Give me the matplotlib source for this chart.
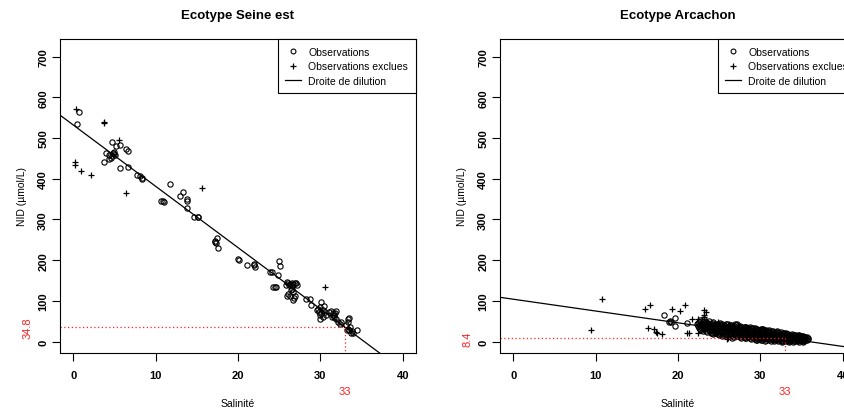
import matplotlib
matplotlib.use("Agg")
import matplotlib.pyplot as plt
import matplotlib.transforms as mtransforms
from matplotlib.lines import Line2D

plt.rcParams['font.family'] = ['Liberation Sans', 'DejaVu Sans']

# Ecotype Seine est
seine_obs_x = [0.76, 0.52,
               4.7, 5.2, 5.7, 6.4, 6.7,
               4.0, 4.4, 4.7, 4.9, 5.1, 4.6, 4.3, 3.8, 5.0, 4.8,
               5.7, 6.6,
               7.7, 8.1, 8.3, 8.4,
               11.7, 13.3, 13.0, 13.8, 13.8, 10.7, 11.0, 10.9,
               13.8, 14.7, 15.2, 15.1,
               17.2, 17.3, 17.5, 17.6, 17.2,
               19.95, 20.1, 21.1, 21.9, 22.05, 21.95,
               23.9, 24.1, 24.95, 25.1, 24.9, 24.3, 24.6, 24.5,
               25.9, 26.1, 26.3, 26.5, 26.7, 26.9, 27.1, 26.2, 26.5, 26.7,
               26.1, 26.3, 26.9, 26.7, 26.0, 26.4, 26.8, 27.0, 26.6, 25.8,
               28.3, 28.7, 28.9,
               30.1, 29.9, 29.7, 29.8, 30.3, 30.5, 30.1, 30.0, 30.3, 30.7, 29.6, 30.4, 29.9,
               31.1, 31.3, 31.5, 31.7, 31.9, 31.4, 32.1, 31.8, 31.6, 31.9,
               32.5, 32.4,
               33.3, 33.4, 33.1, 33.3, 33.5, 33.7, 33.2, 33.9, 34.5, 33.6, 33.8, 33.5]
seine_obs_y = [563, 534,
               491, 481, 483, 473, 467,
               463, 458, 455, 460, 458, 452, 448, 441, 465, 462,
               426, 428,
               408, 407, 402, 399,
               387, 367, 357, 350, 345, 346, 342, 344,
               329, 305, 305, 306,
               248, 243, 254, 230, 245,
               203, 201, 188, 190, 184, 187,
               172, 170, 197, 185, 164, 134, 134, 135,
               146, 145, 142, 145, 142, 145, 140, 138, 130, 122,
               118, 113, 113, 101, 112, 127, 108, 143, 136, 140,
               105, 104, 89,
               98, 85, 81, 73, 77, 73, 69, 56, 61, 65, 78, 88, 66,
               73, 74, 71, 65, 56, 61, 48, 70, 60, 74,
               47, 43,
               55, 48, 40, 32, 28, 22, 28, 20, 29, 35, 25, 57]
seine_excl_x = [0.4, 3.7, 3.75, 5.5, 0.28, 0.28, 0.97, 2.2, 6.4, 15.6, 30.5]
seine_excl_y = [570, 536, 538, 495, 440, 434, 420, 409, 364, 377, 133]
seine_intercept, seine_slope = 532.0, -15.06
seine_sal, seine_nid = 33, 34.8

# Ecotype Arcachon
arc_obs_x = [18.3, 18.9, 19.0, 19.1, 19.6, 19.6, 21.1, 22.3, 30.3,
             22.4, 22.4, 22.7, 22.7, 22.7, 23.0, 23.0, 23.0, 23.2, 23.2, 23.2,
             23.5, 23.5, 23.5, 23.8, 23.8, 23.8, 24.0, 24.0, 24.0,
             24.3, 24.3, 24.3, 24.3, 24.6, 24.6, 24.6, 24.9, 24.9, 24.9,
             25.1, 25.1, 25.1, 25.4, 25.4, 25.4, 25.4, 25.7, 25.7, 25.7,
             26.0, 26.0, 26.0, 26.0, 26.3, 26.3, 26.3, 26.6, 26.6, 26.6, 26.6,
             26.9, 26.9, 26.9, 27.2, 27.2, 27.2, 27.2, 27.5, 27.5, 27.5, 27.5,
             27.8, 27.8, 27.8, 28.1, 28.1, 28.1, 28.1, 28.4, 28.4, 28.4,
             28.7, 28.7, 28.7, 28.7, 29.0, 29.0, 29.0, 29.3, 29.3, 29.3, 29.3,
             29.6, 29.6, 29.6, 29.6, 29.9, 29.9, 29.9, 30.2, 30.2, 30.2, 30.2,
             30.5, 30.5, 30.5, 30.5, 30.8, 30.8, 30.8, 31.1, 31.1, 31.1, 31.1,
             31.4, 31.4, 31.4, 31.7, 31.7, 31.7, 31.7, 32.0, 32.0, 32.0,
             32.3, 32.3, 32.3, 32.6, 32.6, 32.6, 32.6, 32.9, 32.9, 32.9,
             33.2, 33.2, 33.2, 33.5, 33.5, 33.5, 33.5, 33.8, 33.8, 33.8,
             34.1, 34.1, 34.1, 34.4, 34.4, 34.4, 34.7, 34.7, 34.7, 34.7,
             35.0, 35.0, 35.0, 35.3, 35.3, 35.3, 35.6, 35.6,
             22.55, 22.55, 22.85, 22.85, 22.85, 23.1, 23.1, 23.1,
             23.35, 23.35, 23.35, 23.65, 23.65, 23.65, 23.9, 23.9, 23.9,
             24.15, 24.15, 24.15, 24.15, 24.45, 24.45, 24.45, 24.75, 24.75, 24.75,
             25.0, 25.0, 25.0, 25.0, 25.25, 25.25, 25.25, 25.55, 25.55, 25.55, 25.55,
             25.85, 25.85, 25.85, 25.85, 26.15, 26.15, 26.15, 26.45, 26.45, 26.45, 26.45,
             26.75, 26.75, 26.75, 26.75, 27.05, 27.05, 27.05, 27.35, 27.35, 27.35, 27.35,
             27.65, 27.65, 27.65, 27.65, 27.95, 27.95, 27.95, 27.95, 28.25, 28.25, 28.25, 28.25,
             28.55, 28.55, 28.55, 28.55, 28.85, 28.85, 28.85, 28.85, 29.15, 29.15, 29.15, 29.15,
             29.45, 29.45, 29.45, 29.45, 29.75, 29.75, 29.75, 29.75, 30.05, 30.05, 30.05, 30.05,
             30.35, 30.35, 30.35, 30.35, 30.65, 30.65, 30.65, 30.65, 30.95, 30.95, 30.95, 30.95,
             31.25, 31.25, 31.25, 31.25, 31.55, 31.55, 31.55, 31.55, 31.85, 31.85, 31.85, 31.85,
             32.15, 32.15, 32.15, 32.15, 32.45, 32.45, 32.45, 32.45, 32.75, 32.75, 32.75, 32.75,
             33.05, 33.05, 33.05, 33.05, 33.35, 33.35, 33.35, 33.35, 33.65, 33.65, 33.65, 33.65,
             33.95, 33.95, 33.95, 33.95, 34.25, 34.25, 34.25, 34.25, 34.55, 34.55, 34.55, 34.55,
             34.85, 34.85, 34.85, 35.15, 35.15, 35.15, 35.15, 35.45, 35.45, 35.45, 35.75, 35.75]
arc_obs_y = [66, 47, 51, 49, 59, 38, 46, 44, 31,
             45, 38, 52, 30, 41, 47, 35, 26, 55, 40, 30,
             44, 33, 24, 50, 38, 28, 42, 31, 22,
             47, 36, 26, 18, 44, 33, 22, 40, 29, 19,
             46, 36, 25, 42, 31, 20, 14, 39, 28, 18,
             44, 34, 24, 13, 40, 30, 20, 37, 27, 16, 10,
             42, 32, 22, 43, 35, 25, 14, 38, 29, 19, 11,
             34, 25, 15, 36, 28, 19, 9, 33, 24, 14,
             36, 27, 17, 8, 31, 22, 13, 34, 25, 15, 6,
             30, 21, 11, 4, 28, 19, 10, 31, 23, 14, 5,
             27, 18, 9, 2, 25, 17, 8, 28, 20, 11, 3,
             24, 16, 7, 22, 14, 6, 1, 25, 17, 9,
             21, 13, 5, 19, 12, 4, 0, 22, 15, 8,
             18, 11, 3, 16, 10, 5, 0, 19, 12, 6,
             15, 9, 2, 14, 8, 3, 16, 10, 4, 0,
             13, 7, 2, 12, 6, 1, 11, 5,
             48, 34, 44, 36, 28, 50, 42, 33,
             47, 37, 27, 46, 40, 30, 44, 35, 25,
             45, 39, 29, 21, 41, 30, 20, 42, 35, 24,
             43, 32, 22, 16, 40, 33, 23, 41, 35, 25, 16,
             42, 33, 22, 15, 39, 28, 18, 41, 34, 24, 13,
             39, 30, 19, 12, 40, 28, 17, 37, 31, 22, 13,
             36, 27, 17, 9, 37, 30, 21, 12, 35, 26, 16, 8,
             34, 29, 20, 11, 33, 24, 15, 6, 33, 27, 18, 9,
             31, 23, 13, 5, 29, 25, 16, 7, 30, 21, 12, 3,
             29, 25, 16, 7, 28, 21, 12, 5, 27, 22, 14, 6,
             25, 18, 9, 2, 26, 19, 11, 4, 23, 17, 10, 3,
             23, 15, 7, 1, 23, 17, 10, 2, 20, 14, 6, 1,
             20, 13, 6, 1, 19, 13, 8, 2, 17, 12, 7, 2,
             17, 11, 4, 0, 16, 11, 6, 1, 15, 11, 5, 1,
             14, 9, 3, 13, 9, 4, 0, 12, 8, 3, 10, 6]
arc_excl_x = [10.8, 9.5, 16.0, 16.6, 16.4, 17.1, 17.3, 17.5, 18.0, 19.3, 20.3, 20.8,
              21.1, 21.3, 21.7, 22.4, 22.4, 23.2, 23.4, 23.1, 23.2, 26.0, 24.8, 26.2, 26.1]
arc_excl_y = [104, 28, 79, 91, 34, 30, 24, 20, 18, 79, 74, 91,
              22, 22, 55, 56, 20, 77, 73, 66, 60, 7, 47, 42, 8]
arc_intercept, arc_slope = 104.1, -2.9
arc_sal, arc_nid = 33, 8.4

W, H = 845, 414
fig = plt.figure(figsize=(W / 100, H / 100), dpi=100)


def panel(left, title, ox, oy, ex, ey, a, b, sal, nid, nid_label, nid_x):
    ax = fig.add_axes([left / W, (H - 354) / H, 356 / W, 314 / H])
    ax.set_xlim(-1.6, 41.6)
    ax.set_ylim(-28, 743)
    ax.plot(ox, oy, 'o', mfc='none', mec='black', ms=3.8, mew=0.8, ls='none')
    ax.plot(ex, ey, '+', color='black', ms=5, mew=0.9, ls='none')
    ax.axline((0, a), slope=b, color='black', lw=0.9)
    red = '#FF2020'
    ax.plot([-1.6, sal], [nid, nid], color=red, lw=0.9, ls=(0, (1, 2)))
    ax.plot([sal, sal], [nid, -28], color=red, lw=0.9, ls=(0, (1, 2)))

    ax.set_xticks([0, 10, 20, 30, 40])
    ax.tick_params(direction='out', length=5.5, width=0.8, labelsize=8)
    ax.tick_params(axis='x', pad=7)
    ax.tick_params(axis='y', pad=3)
    for t in ax.get_xticklabels():
        t.set_fontweight('bold')
    ax.set_yticks(range(0, 800, 100))
    ax.set_yticklabels([str(v) for v in range(0, 800, 100)],
                       rotation=90, va='center', fontweight='bold')
    for s in ax.spines.values():
        s.set_linewidth(0.8)

    ax.set_title(title, fontsize=9.5, fontweight='bold', pad=15)
    ax.set_xlabel('Salinité', fontsize=7.5, labelpad=13)
    ax.set_ylabel('NID (µmol/L)', fontsize=7.5, labelpad=8)

    tx = mtransforms.blended_transform_factory(ax.transData, fig.transFigure)
    ax.text(sal, 1 - 392 / H, str(sal), transform=tx, color=red,
            fontsize=8, ha='center', va='center')
    ty = mtransforms.blended_transform_factory(fig.transFigure, ax.transData)
    ax.text(nid_x / W, nid, nid_label, transform=ty, color=red,
            fontsize=8, ha='center', va='center', rotation=90)

    handles = [Line2D([], [], marker='o', mfc='none', mec='black', ms=3.5, mew=0.8, ls='none'),
               Line2D([], [], marker='+', color='black', ms=5, mew=0.9, ls='none'),
               Line2D([], [], color='black', lw=0.9)]
    leg = ax.legend(handles, ['Observations', 'Observations exclues', 'Droite de dilution'],
                    loc='upper right', borderaxespad=0, fontsize=7.5, fancybox=False,
                    edgecolor='black', framealpha=1, handlelength=1.5,
                    handletextpad=0.7, labelspacing=0.42, borderpad=0.75)
    leg.get_frame().set_linewidth(0.8)
    return ax


panel(60, 'Ecotype Seine est', seine_obs_x, seine_obs_y, seine_excl_x, seine_excl_y,
      seine_intercept, seine_slope, seine_sal, seine_nid, '34.8', 28)
panel(500, 'Ecotype Arcachon', arc_obs_x, arc_obs_y, arc_excl_x, arc_excl_y,
      arc_intercept, arc_slope, arc_sal, arc_nid, '8.4', 468)

fig.savefig('out.png', dpi=100)
